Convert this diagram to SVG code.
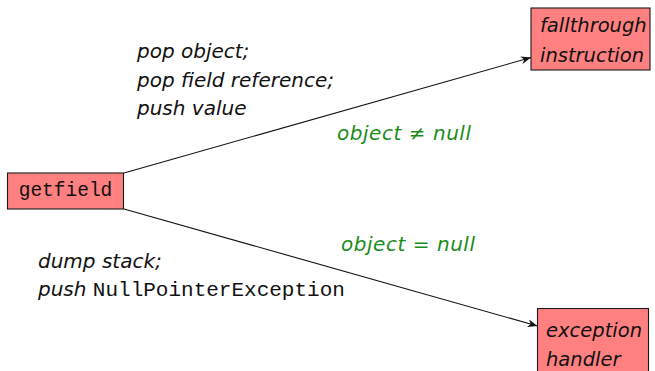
<svg xmlns="http://www.w3.org/2000/svg" width="655" height="371" viewBox="0 0 655 371">
<style>
.box{fill:#ff8080;stroke:#1a1a1a;stroke-width:1.1}
.it{font-family:"DejaVu Sans",sans-serif;font-style:italic;font-size:20px;fill:#111}
.bt{font-size:19.5px}
.mono{font-family:"Liberation Mono",monospace;fill:#111}
.grn{font-family:"DejaVu Sans",sans-serif;font-style:italic;font-size:20px;fill:#1a8c1a}
.edge{stroke:#111;stroke-width:1.1;fill:none;marker-end:url(#ah)}
</style>
<defs>
<marker id="ah" viewBox="0 0 10 8" refX="10" refY="4" markerWidth="10" markerHeight="8" markerUnits="userSpaceOnUse" orient="auto">
<path d="M0,0 L10,4 L0,8 L3,4 Z" fill="#111"/>
</marker>
</defs>
<rect width="655" height="371" fill="#fff"/>
<g id="connectors">
<line class="edge" x1="124" y1="173" x2="531" y2="57.5"/>
<line class="edge" x1="124" y1="209" x2="537.5" y2="326"/>
</g>
<g id="getfield">
<rect class="box" x="7.5" y="173" width="116" height="36"/>
<text class="mono" x="65.5" y="196" font-size="19.5" text-anchor="middle">getfield</text>
</g>
<g id="fallthrough">
<rect class="box" x="531" y="8" width="119" height="62"/>
<text class="it bt" x="540" y="32">fallthrough</text>
<text class="it bt" x="540" y="62">instruction</text>
</g>
<g id="handler">
<rect class="box" x="537.5" y="308.5" width="111" height="70"/>
<text class="it bt" x="546" y="337">exception</text>
<text class="it bt" x="546" y="366">handler</text>
</g>
<g id="labels">
<text class="it" x="137" y="58">pop object;</text>
<text class="it" x="137" y="87">pop field reference;</text>
<text class="it" x="137" y="115">push value</text>
<text class="grn" x="337" y="140" textLength="134" lengthAdjust="spacing">object ≠ null</text>
<text class="grn" x="341" y="251" textLength="134" lengthAdjust="spacing">object = null</text>
<text class="it" x="38" y="268">dump stack;</text>
<text class="it" x="38" y="296">push <tspan class="mono" font-style="normal" font-size="21">NullPointerException</tspan></text>
</g>
</svg>
